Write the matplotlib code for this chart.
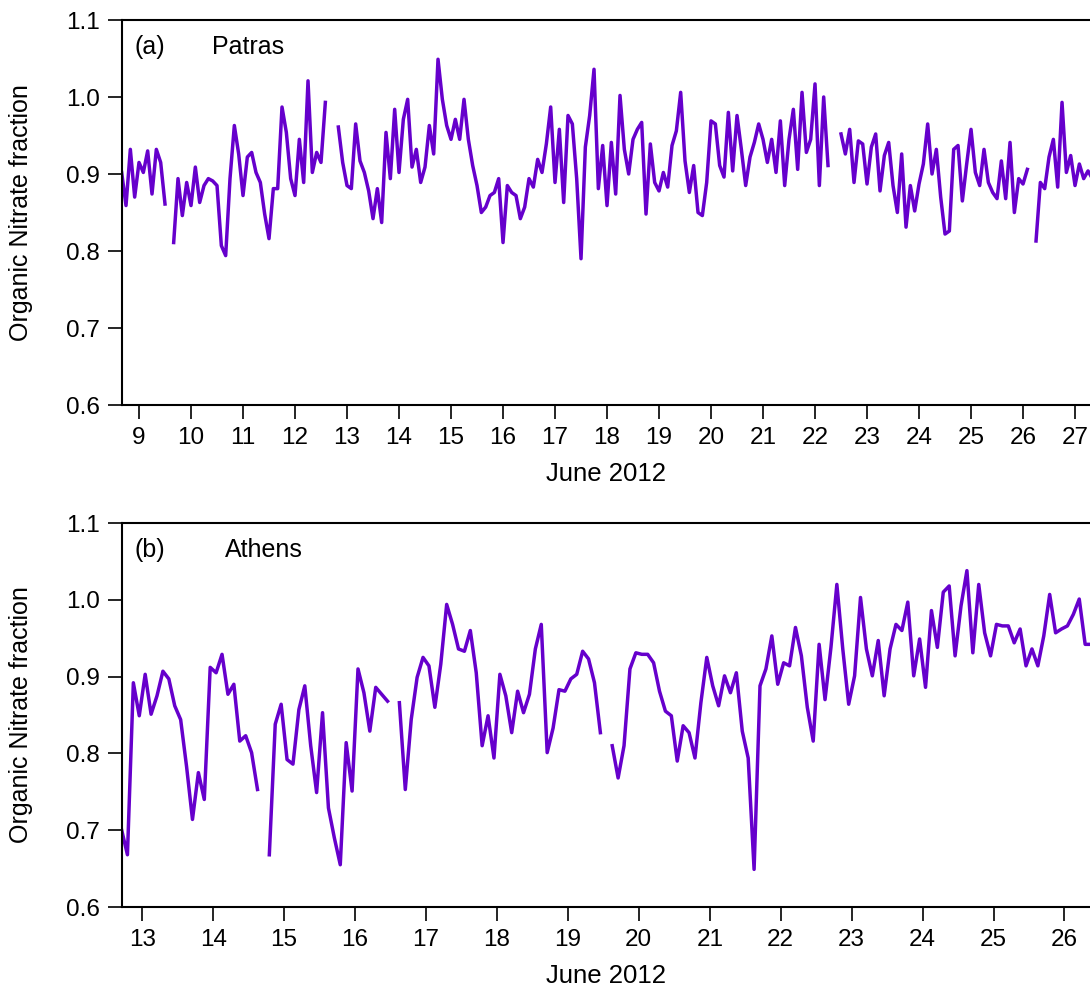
import matplotlib
matplotlib.use("Agg")
import matplotlib.pyplot as plt
import matplotlib.dates as mdates
import numpy as np
import pandas as pd

nan = np.nan

# 2-hourly organic nitrate fraction, Patras (from 8 June 16:00)
patras_start = "2012-06-08 16:00"
patras_frac = [
    0.902, 0.859, 0.932, 0.870, 0.915, 0.902, 0.930, 0.874, 0.932, 0.915,
    0.861, nan, 0.811, 0.894, 0.846, 0.889, 0.859, 0.909, 0.863, 0.885,
    0.894, 0.891, 0.885, 0.807, 0.794, 0.894, 0.963, 0.926, 0.872, 0.922,
    0.928, 0.902, 0.889, 0.848, 0.816, 0.881, 0.881, 0.987, 0.954, 0.894,
    0.872, 0.945, 0.889, 1.021, 0.902, 0.928, 0.915, 0.993, nan, nan,
    0.961, 0.915, 0.885, 0.881, 0.965, 0.917, 0.902, 0.878, 0.842, 0.881,
    0.837, 0.954, 0.894, 0.984, 0.902, 0.971, 0.997, 0.909, 0.932, 0.889,
    0.909, 0.963, 0.926, 1.049, 0.997, 0.963, 0.945, 0.971, 0.945, 0.997,
    0.945, 0.911, 0.885, 0.850, 0.857, 0.872, 0.876, 0.894, 0.811, 0.885,
    0.876, 0.872, 0.842, 0.857, 0.894, 0.883, 0.919, 0.902, 0.939, 0.987,
    0.889, 0.958, 0.863, 0.976, 0.965, 0.894, 0.790, 0.935, 0.976, 1.036,
    0.881, 0.937, 0.859, 0.941, 0.874, 1.002, 0.932, 0.900, 0.945, 0.958,
    0.967, 0.848, 0.939, 0.889, 0.878, 0.902, 0.883, 0.937, 0.956, 1.006,
    0.917, 0.876, 0.911, 0.850, 0.846, 0.889, 0.969, 0.965, 0.911, 0.896,
    0.980, 0.904, 0.976, 0.932, 0.885, 0.922, 0.941, 0.965, 0.945, 0.915,
    0.945, 0.902, 0.969, 0.885, 0.945, 0.984, 0.906, 1.006, 0.928, 0.945,
    1.017, 0.885, 1.000, 0.911, nan, nan, 0.952, 0.926, 0.958, 0.889,
    0.943, 0.939, 0.887, 0.935, 0.952, 0.878, 0.924, 0.941, 0.885, 0.850,
    0.926, 0.831, 0.885, 0.852, 0.887, 0.913, 0.965, 0.900, 0.932, 0.870,
    0.822, 0.826, 0.932, 0.937, 0.865, 0.913, 0.958, 0.902, 0.885, 0.932,
    0.889, 0.876, 0.868, 0.917, 0.868, 0.941, 0.850, 0.894, 0.887, 0.906,
    nan, 0.813, 0.889, 0.881, 0.922, 0.945, 0.883, 0.993, 0.902, 0.924,
    0.885, 0.913, 0.894, 0.904, 0.894,
]

# 2-hourly organic nitrate fraction, Athens (from 12 June 17:00)
athens_start = "2012-06-12 17:00"
athens_frac = [
    0.701, 0.668, 0.892, 0.849, 0.903, 0.851, 0.875, 0.907, 0.897, 0.862,
    0.844, 0.783, 0.714, 0.775, 0.740, 0.912, 0.905, 0.929, 0.877, 0.890,
    0.816, 0.823, 0.801, 0.753, nan, 0.668, 0.838, 0.864, 0.792, 0.786,
    0.857, 0.888, 0.810, 0.749, 0.853, 0.729, 0.690, 0.655, 0.814, 0.751,
    0.910, 0.879, 0.829, 0.886, 0.877, 0.868, nan, 0.866, 0.753, 0.844,
    0.899, 0.925, 0.914, 0.860, 0.916, 0.994, 0.968, 0.936, 0.933, 0.960,
    0.905, 0.810, 0.849, 0.794, 0.903, 0.875, 0.827, 0.881, 0.853, 0.877,
    0.936, 0.968, 0.801, 0.833, 0.883, 0.881, 0.897, 0.903, 0.933, 0.923,
    0.892, 0.827, nan, 0.810, 0.768, 0.810, 0.910, 0.931, 0.929, 0.929,
    0.918, 0.881, 0.855, 0.849, 0.790, 0.836, 0.827, 0.794, 0.866, 0.925,
    0.888, 0.862, 0.901, 0.879, 0.905, 0.829, 0.794, 0.649, 0.888, 0.910,
    0.953, 0.890, 0.918, 0.914, 0.964, 0.927, 0.860, 0.816, 0.942, 0.870,
    0.938, 1.020, 0.936, 0.864, 0.901, 1.003, 0.936, 0.901, 0.947, 0.875,
    0.936, 0.968, 0.960, 0.997, 0.901, 0.949, 0.886, 0.986, 0.938, 1.010,
    1.018, 0.927, 0.992, 1.038, 0.931, 1.020, 0.957, 0.927, 0.968, 0.966,
    0.966, 0.944, 0.962, 0.914, 0.936, 0.914, 0.953, 1.007, 0.957, 0.962,
    0.966, 0.981, 1.001, 0.942, 0.942,
]

patras_time = pd.date_range(patras_start, periods=len(patras_frac), freq="2h")
athens_time = pd.date_range(athens_start, periods=len(athens_frac), freq="2h")

day0 = pd.Timestamp("2012-06-01")
panels = [
    ("(a)", "Patras", patras_time, patras_frac, (7.673, 26.288), 0.093),
    ("(b)", "Athens", athens_time, athens_frac, (11.715, 25.360), 0.106),
]

plt.rcParams["font.family"] = ["Liberation Sans", "DejaVu Sans"]
line_color = "#6600cc"

fig = plt.figure(figsize=(10.9, 9.96), dpi=100)
axes = [
    fig.add_axes([122 / 1090, 1 - 405 / 996, 968 / 1090, 385 / 996]),
    fig.add_axes([122 / 1090, 1 - 907 / 996, 968 / 1090, 384 / 996]),
]

for ax, (tag, site, t, frac, (d0, d1), site_x) in zip(axes, panels):
    ax.plot(t, frac, color=line_color, lw=2.5, solid_joinstyle="round")
    ax.set_xlim(day0 + pd.Timedelta(days=d0), day0 + pd.Timedelta(days=d1))
    ax.set_ylim(0.6, 1.1)
    ax.set_yticks([0.6, 0.7, 0.8, 0.9, 1.0, 1.1])
    ax.yaxis.set_major_formatter(plt.FuncFormatter(lambda v, p: f"{v:.1f}"))
    ax.xaxis.set_major_locator(mdates.DayLocator())
    ax.xaxis.set_major_formatter(
        plt.FuncFormatter(lambda v, p: str(mdates.num2date(v).day)))
    ax.tick_params(direction="out", length=10, width=1.2, labelsize=17.5,
                   pad=6, color="black")
    for side in ("left", "bottom", "top"):
        ax.spines[side].set_linewidth(1.5)
    ax.spines["right"].set_visible(False)
    ax.set_xlabel("June 2012", fontsize=18.5, labelpad=9)
    ax.set_ylabel("Organic Nitrate fraction", fontsize=18)
    ax.yaxis.set_label_coords(-0.092, 0.5)
    ax.text(0.0134, 0.93, tag, transform=ax.transAxes, fontsize=18,
            va="center", ha="left")
    ax.text(site_x, 0.93, site, transform=ax.transAxes, fontsize=18,
            va="center", ha="left")

fig.savefig("out.png", dpi=100)
